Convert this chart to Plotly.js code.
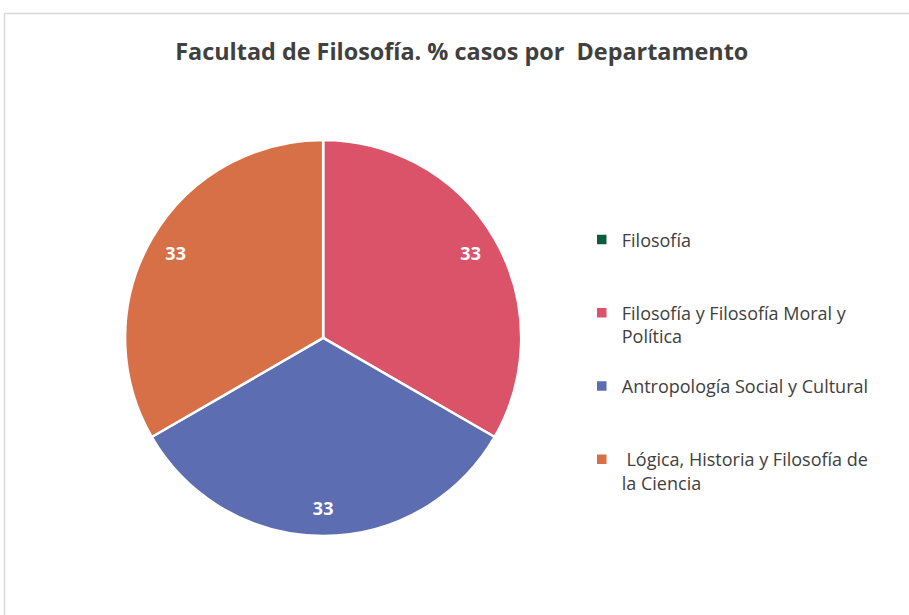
<!DOCTYPE html>
<html>
<head>
<meta charset="utf-8">
<script src="https://cdn.plot.ly/plotly-3.0.1.min.js"></script>
<style>html,body{margin:0;padding:0;background:#fff;}#chart{width:909px;height:615px;}</style>
</head>
<body>
<div id="chart"></div>
<script>
const categories = [
  "Filosofía",
  "Filosofía y Filosofía Moral y<br>Política",
  "Antropología Social y Cultural",
  " Lógica, Historia y Filosofía de<br>la Ciencia"
];
const values = [0, 33, 33, 33];
const colors = ["#0E5C3E", "#DB5369", "#5C6DB2", "#D77047"];
const chartTitle = "Facultad de Filosofía. % casos por  Departamento";

// pad legend entries to equal number of lines so they are evenly spaced
const LEGEND_LINES = 3;
const legendLabels = categories.map(c => {
  const n = c.split("<br>").length;
  return c + "<br> ".repeat(LEGEND_LINES - n);
});

const dom = {x: [0.1375, 0.5735], y: [0.1285, 0.7725]};

const pie = {
  type: "pie",
  labels: legendLabels,
  values: values,
  sort: false,
  direction: "clockwise",
  rotation: 0,
  domain: dom,
  marker: {colors: colors, line: {color: "#ffffff", width: 2.5}},
  textinfo: "none",
  hoverinfo: "label+value",
  showlegend: true
};

const labelsRing = {
  type: "pie",
  labels: legendLabels,
  values: values,
  sort: false,
  direction: "clockwise",
  rotation: 0,
  domain: dom,
  hole: 0.72,
  marker: {colors: ["rgba(0,0,0,0)", "rgba(0,0,0,0)", "rgba(0,0,0,0)", "rgba(0,0,0,0)"], line: {width: 0}},
  texttemplate: values.map(v => v > 0 ? "%{value}" : ""),
  textposition: "inside",
  insidetextorientation: "horizontal",
  textfont: {family: "Open Sans, sans-serif", size: 18, color: "#ffffff", weight: "bold"},
  hoverinfo: "skip",
  showlegend: false
};

const layout = {
  width: 909,
  height: 615,
  margin: {l: 0, r: 0, t: 0, b: 0},
  paper_bgcolor: "#ffffff",
  font: {family: "Open Sans, sans-serif", color: "#404040"},
  title: {
    text: "<b>" + chartTitle + "</b>",
    x: 0.508, xanchor: "center",
    y: 0.915, yanchor: "middle",
    font: {family: "Open Sans, sans-serif", size: 23.4, color: "#404040"}
  },
  legend: {
    x: 0.64, xanchor: "left",
    y: 0.64, yanchor: "top",
    valign: "top",
    font: {family: "Open Sans, sans-serif", size: 18, color: "#404040"},
    bgcolor: "rgba(0,0,0,0)"
  },
  shapes: [{
    type: "rect", xref: "paper", yref: "paper",
    x0: 4.5 / 909, x1: 1.2, y0: -0.2, y1: 1 - 13.5 / 615,
    line: {color: "#D9D9D9", width: 1.5},
    fillcolor: "rgba(0,0,0,0)", layer: "below"
  }],
  showlegend: true
};

Plotly.newPlot("chart", [pie, labelsRing], layout, {displayModeBar: false, staticPlot: true});
</script>
</body>
</html>
